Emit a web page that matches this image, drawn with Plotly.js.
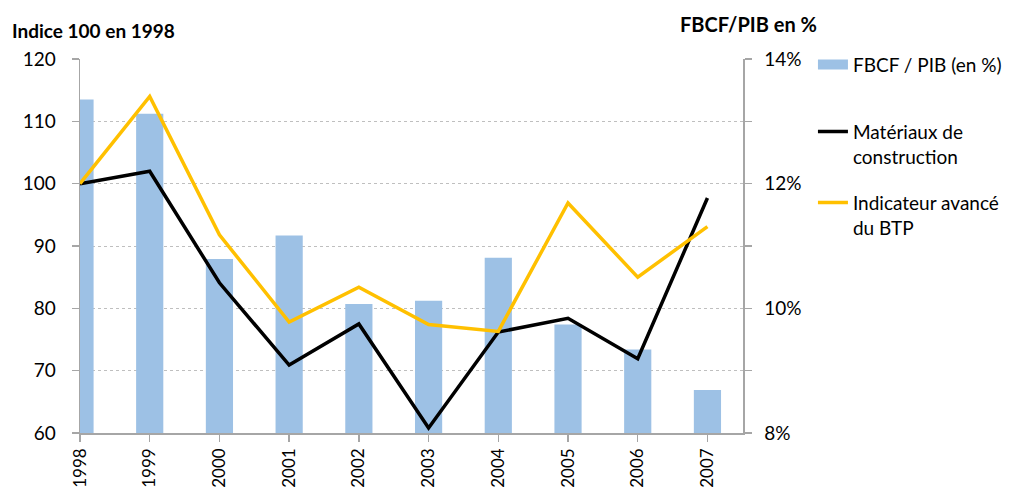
<!DOCTYPE html>
<html>
<head>
<meta charset="utf-8">
<script src="https://cdn.plot.ly/plotly-3.0.1.min.js"></script>
<style>html,body{margin:0;padding:0;background:#fff;}#chart{width:1011px;height:489px;}</style>
</head>
<body>
<div id="chart"></div>
<script>
const years = [1998, 1999, 2000, 2001, 2002, 2003, 2004, 2005, 2006, 2007];
const fbcfPib = [13.35, 13.12, 10.79, 11.17, 10.07, 10.12, 10.81, 9.74, 9.34, 8.69];
const materiaux = [100, 102.0, 84.1, 70.9, 77.5, 60.8, 76.2, 78.4, 71.9, 97.7];
const indicateur = [100, 114.0, 91.8, 77.8, 83.4, 77.4, 76.3, 96.9, 85.0, 93.1];
const leftTicks = [60, 70, 80, 90, 100, 110, 120];
const rightTickVals = [8, 9, 10, 11, 12, 13, 14];
const rightTickText = ['8%', '', '10%', '', '12%', '', '14%'];
const seriesNames = ['FBCF / PIB (en %)', 'Matériaux de<br>construction', 'Indicateur avancé<br>du BTP'];

const FONT = 'Lato, "Open Sans", sans-serif';
const FS = 19;
const AXIS_GRAY = '#A6A6A6';
const BAR_BLUE = '#9DC1E5';

// Bars on the primary (percent) axis so the index lines draw above them
const traces = [
  {
    type: 'bar', x: years, y: fbcfPib, yaxis: 'y', name: seriesNames[0],
    width: 0.39, marker: {color: BAR_BLUE}, showlegend: false
  },
  // legend-only entry giving the wide rectangular swatch of the bar series
  {
    type: 'scatter', mode: 'lines', x: [null], y: [null], yaxis: 'y', name: seriesNames[0],
    line: {color: BAR_BLUE, width: 10}, legend: 'legend', hoverinfo: 'skip'
  },
  {
    type: 'scatter', mode: 'lines', x: years, y: materiaux, yaxis: 'y2', name: seriesNames[1],
    line: {color: '#000000', width: 3.5}, legend: 'legend2', cliponaxis: false
  },
  {
    type: 'scatter', mode: 'lines', x: years, y: indicateur, yaxis: 'y2', name: seriesNames[2],
    line: {color: '#FFC000', width: 3.5}, legend: 'legend3', cliponaxis: false
  }
];

const legendBase = {
  x: 1.1055, xanchor: 'left', yanchor: 'top', valign: 'top',
  font: {family: FONT, size: FS, color: '#000'}, bgcolor: 'rgba(0,0,0,0)'
};

const layout = {
  width: 1011, height: 489,
  margin: {l: 80, r: 268, t: 59, b: 56, pad: 0, autoexpand: false},
  paper_bgcolor: '#fff', plot_bgcolor: '#fff',
  font: {family: FONT, size: FS, color: '#000'},
  showlegend: true,
  legend: Object.assign({}, legendBase, {y: 1.0356}),
  legend2: Object.assign({}, legendBase, {y: 0.8564}),
  legend3: Object.assign({}, legendBase, {y: 0.6666}),
  xaxis: {
    type: 'linear', range: [1998, 2007.51],
    tickvals: years, ticktext: years.map(String), tickangle: -90,
    ticks: 'outside', ticklen: 7, tickcolor: AXIS_GRAY, tickwidth: 1.5,
    showline: true, linecolor: AXIS_GRAY, linewidth: 1.5,
    showgrid: false, zeroline: false, ticklabelstandoff: 0,
    tickfont: {family: FONT, size: 17, color: '#000'}
  },
  yaxis: {
    range: [8, 14], side: 'right',
    tickvals: rightTickVals, ticktext: rightTickText,
    ticks: 'outside', ticklen: 7, tickcolor: AXIS_GRAY, tickwidth: 1.5,
    showline: true, linecolor: AXIS_GRAY, linewidth: 1.5,
    showgrid: true, gridcolor: '#BFBFBF', griddash: 'dot', gridwidth: 1,
    zeroline: false, ticklabelstandoff: 9,
    tickfont: {family: FONT, size: FS, color: '#000'}
  },
  yaxis2: {
    range: [60, 120], overlaying: 'y', side: 'left', tickvals: leftTicks,
    ticks: 'outside', ticklen: 7, tickcolor: AXIS_GRAY, tickwidth: 1.5,
    showline: true, linecolor: AXIS_GRAY, linewidth: 1.5,
    showgrid: false, zeroline: false, ticklabelstandoff: 12,
    tickfont: {family: FONT, size: FS, color: '#000'}
  },
  annotations: [
    {text: '<b>Indice 100 en 1998</b>', xref: 'paper', yref: 'paper',
     x: -0.1056, xanchor: 'left', y: 1.075, yanchor: 'middle', showarrow: false,
     font: {family: FONT, size: FS, color: '#000'}},
    {text: '<b>FBCF/PIB en %</b>', xref: 'paper', yref: 'paper',
     x: 1.009, xanchor: 'center', y: 1.093, yanchor: 'middle', showarrow: false,
     font: {family: FONT, size: 20, color: '#000'}}
  ]
};

Plotly.newPlot('chart', traces, layout, {displayModeBar: false, staticPlot: true});
</script>
</body>
</html>
